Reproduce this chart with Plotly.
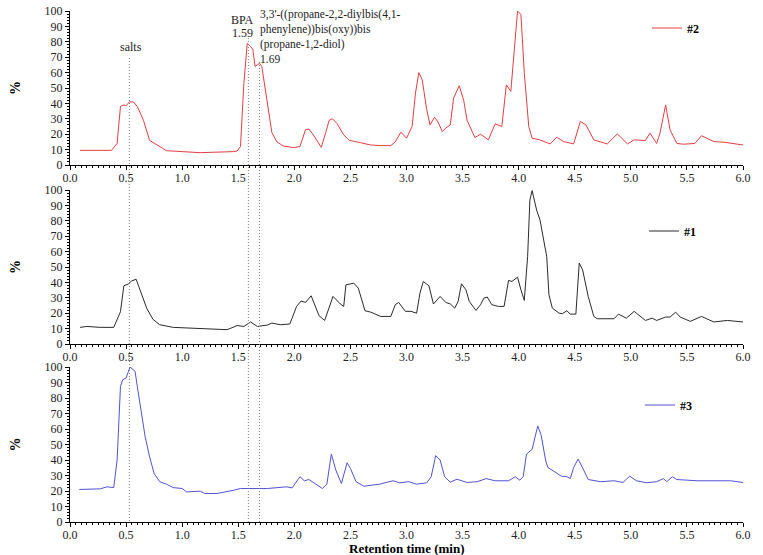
import plotly.graph_objects as go

# ---------------- data ----------------
t_s2 = [0.09, 0.37, 0.42, 0.45, 0.48, 0.50, 0.53, 0.565, 0.60, 0.655, 0.71, 0.80, 0.86, 1.00, 1.16, 1.46, 1.49,
        1.52, 1.55, 1.58, 1.61, 1.63, 1.65, 1.67, 1.69, 1.71, 1.755, 1.80, 1.845, 1.90, 1.99, 2.05, 2.10, 2.13,
        2.17, 2.24, 2.28, 2.31, 2.34, 2.38, 2.44, 2.49, 2.59, 2.68, 2.77, 2.86, 2.90, 2.95, 3.00, 3.05, 3.08,
        3.11, 3.14, 3.18, 3.21, 3.25, 3.28, 3.32, 3.35, 3.39, 3.42, 3.47, 3.51, 3.54, 3.61, 3.66, 3.73, 3.79,
        3.85, 3.89, 3.93, 3.95, 3.99, 4.02, 4.05, 4.09, 4.12, 4.19, 4.28, 4.34, 4.40, 4.49, 4.55, 4.60, 4.67,
        4.79, 4.88, 4.97, 5.03, 5.13, 5.17, 5.23, 5.26, 5.31, 5.35, 5.41, 5.47, 5.57, 5.63, 5.74, 5.83, 6.00]
v_s2 = [9.5, 9.5, 14, 38, 39, 38.5, 41, 41, 38, 29, 16, 12, 9.3, 8.7, 8.0, 8.7, 9.1,
        12, 53, 79, 77, 75, 64, 65, 66, 64, 42, 21, 15, 12.4, 11.3, 12, 23, 23.3,
        19.5, 11.5, 21, 29, 30, 27, 19.6, 16, 14.5, 13, 12.6, 12.6, 15, 21.3, 17.4, 25, 46.7,
        60, 55.4, 36, 26, 31, 28, 21.7, 24, 26, 43.5, 51.5, 42, 29, 17.8, 20, 16.3, 26.7,
        25, 52, 47.8, 64, 100, 97.8, 60, 25, 17.4, 16.3, 13.7, 18, 15.2, 13.7, 28.3, 26, 16.3,
        13.7, 20.2, 13.7, 16.3, 15.9, 20.7, 14, 20.7, 39, 22.8, 14, 13.5, 14, 19, 15.2, 14.8, 13]

t_s1 = [0.09, 0.15, 0.27, 0.39, 0.45, 0.48, 0.52, 0.55, 0.59, 0.625, 0.685, 0.74, 0.80, 0.92, 1.16, 1.40, 1.46,
        1.49, 1.55, 1.61, 1.67, 1.76, 1.80, 1.875, 1.96, 2.02, 2.06, 2.10, 2.15, 2.22, 2.27, 2.31, 2.345, 2.41,
        2.44, 2.46, 2.53, 2.57, 2.63, 2.68, 2.77, 2.86, 2.90, 2.93, 2.99, 3.04, 3.09, 3.12, 3.15, 3.20, 3.24,
        3.30, 3.35, 3.39, 3.43, 3.46, 3.49, 3.53, 3.56, 3.62, 3.66, 3.69, 3.72, 3.76, 3.82, 3.87, 3.91, 3.94,
        3.99, 4.02, 4.05, 4.08, 4.10, 4.12, 4.16, 4.19, 4.25, 4.27, 4.30, 4.36, 4.39, 4.43, 4.46, 4.51, 4.53,
        4.54, 4.57, 4.62, 4.67, 4.70, 4.85, 4.89, 4.96, 5.03, 5.13, 5.19, 5.23, 5.31, 5.35, 5.40, 5.44, 5.53,
        5.63, 5.74, 5.86, 6.00]
v_s1 = [10.8, 11.4, 10.8, 10.8, 21, 37.8, 39, 41, 42, 35, 23, 16, 12.5, 10.8, 10, 9.3, 11,
        12, 11.4, 14.3, 11.4, 12.3, 13.6, 12.5, 13, 24.4, 27.9, 27, 31.3, 18.4, 15.3, 23.3, 30.9, 26,
        24.4, 38.4, 39.5, 36.3, 21.6, 20.7, 17.9, 17.9, 25.5, 27, 21.2, 21.2, 20, 33, 40.6, 37.8, 26,
        30.9, 27, 26, 23.3, 27.6, 39.1, 35.2, 27.6, 21.8, 25.5, 29.8, 30.5, 25.5, 24.4, 24.4, 41.3, 40.6,
        43.4, 35.2, 28.3, 56.8, 93.5, 99.6, 87, 80.6, 56.8, 32, 23.3, 20, 19.7, 21.6, 19.4, 19.4, 47,
        52.5, 48.2, 30.9, 17.9, 16.4, 16.4, 19.4, 16.8, 21.2, 15.3, 16.8, 15.3, 17.5, 17.5, 20.7, 17.5, 14.7,
        17.9, 14.3, 15.3, 14.3]

t_s3 = [0.083, 0.27, 0.33, 0.39, 0.42, 0.45, 0.47, 0.50, 0.535, 0.58, 0.60, 0.64, 0.67, 0.71, 0.75, 0.80, 0.86,
        0.92, 1.00, 1.04, 1.16, 1.20, 1.31, 1.46, 1.52, 1.76, 1.93, 1.98, 2.02, 2.05, 2.09, 2.13, 2.25, 2.29,
        2.33, 2.37, 2.42, 2.47, 2.50, 2.55, 2.62, 2.68, 2.76, 2.88, 2.94, 3.02, 3.09, 3.18, 3.22, 3.26, 3.30,
        3.34, 3.39, 3.45, 3.54, 3.63, 3.71, 3.79, 3.91, 3.97, 4.01, 4.04, 4.07, 4.12, 4.17, 4.20, 4.24, 4.26,
        4.32, 4.38, 4.43, 4.46, 4.49, 4.53, 4.58, 4.62, 4.73, 4.85, 4.93, 4.99, 5.05, 5.14, 5.23, 5.29, 5.32,
        5.37, 5.41, 5.59, 5.74, 5.89, 6.00]
v_s3 = [21, 21.4, 22.7, 22.2, 40, 87.5, 91.8, 92.9, 100, 97.2, 87.5, 70.2, 55, 42, 31.3, 26, 24.4,
        22.2, 21.6, 19.4, 19.9, 18.4, 18.4, 20.5, 21.6, 21.6, 22.7, 22, 26, 29.2, 26.6, 27.4, 21.6, 24.4,
        43.8, 33.5, 24.8, 38.2, 34.6, 26, 23.1, 23.8, 24.4, 26.6, 25.3, 26, 24.4, 25.3, 29.2, 42.8, 40,
        29.2, 25.7, 27.6, 25.5, 26, 28, 26.6, 26.6, 29.2, 27, 29.2, 43.8, 46.9, 62, 56.2, 40, 35.2,
        32.4, 29.6, 29.2, 28, 35.2, 40.6, 33.5, 27.4, 26, 26.6, 25.5, 29.6, 26.6, 25.3, 26, 28, 26,
        29.2, 27.4, 26.6, 26.6, 26.6, 25.5]

series_names = ["#2", "#1", "#3"]
marker_times = [0.53, 1.59, 1.69]
x_ticks = [0.0, 0.5, 1.0, 1.5, 2.0, 2.5, 3.0, 3.5, 4.0, 4.5, 5.0, 5.5, 6.0]
y_ticks = [0, 10, 20, 30, 40, 50, 60, 70, 80, 90, 100]

# ---------------- figure ----------------
FONT = "Liberation Serif"
W, H = 763, 555
PW = W - 90

def py(px):
    return 1 - px / H

def pxx(px):
    return (px - 70) / PW

fig = go.Figure()
colors = ["#e23e42", "#2a2a2a", "#5252d4"]
data = [(t_s2, v_s2), (t_s1, v_s1), (t_s3, v_s3)]
axes = [("x", "y"), ("x2", "y2"), ("x3", "y3")]
legends = ["legend", "legend2", "legend3"]
for i in range(3):
    fig.add_trace(go.Scatter(x=data[i][0], y=data[i][1], mode="lines", name=series_names[i],
                             line=dict(color=colors[i], width=1), xaxis=axes[i][0], yaxis=axes[i][1],
                             legend=legends[i], showlegend=True))

domains = [(py(165), py(11)), (py(344), py(190)), (py(522), py(367))]
common_x = dict(range=[0, 6], tickvals=x_ticks, ticktext=[f"{v:.1f}" for v in x_ticks],
                showline=True, linecolor="black", linewidth=1, ticks="outside", ticklen=4,
                tickcolor="black", showgrid=False, zeroline=False, automargin=False,
                ticklabelstandoff=-2,
                tickfont=dict(family=FONT, size=12, color="#222"),
                minor=dict(dtick=0.05, ticks="outside", ticklen=2, tickcolor="black", showgrid=False))
common_y = dict(range=[0, 100], tickvals=y_ticks, showline=True, linecolor="black", linewidth=1,
                ticks="outside", ticklen=4, tickcolor="black", showgrid=False, zeroline=False,
                automargin=False,
                tickfont=dict(family=FONT, size=12, color="#222"),
                minor=dict(dtick=2, ticks="outside", ticklen=2, tickcolor="black", showgrid=False))

layout = dict(width=W, height=H, paper_bgcolor="white", plot_bgcolor="white",
              margin=dict(l=70, r=20, t=0, b=0, autoexpand=False),
              font=dict(family=FONT, color="#222"))
for i in range(3):
    xs = "xaxis" if i == 0 else f"xaxis{i+1}"
    ys = "yaxis" if i == 0 else f"yaxis{i+1}"
    layout[xs] = dict(common_x, domain=[0, 1], anchor=axes[i][1])
    layout[ys] = dict(common_y, domain=list(domains[i]), anchor=axes[i][0])

leg_pos = [(647, 28), (644, 231), (640, 405)]
for i, lg in enumerate(legends):
    layout[lg] = dict(x=pxx(leg_pos[i][0]), y=py(leg_pos[i][1]), xanchor="left",
                      yanchor="middle", bgcolor="rgba(0,0,0,0)", borderwidth=0,
                      font=dict(family=FONT, size=12, color="black", weight="bold"),
                      visible=True)
fig.update_layout(**layout)

# dotted marker lines
starts = [58, 38, 62]
for t, s in zip(marker_times, starts):
    fig.add_shape(type="line", xref="x", yref="paper", x0=t, x1=t, y0=py(s), y1=py(522),
                  line=dict(color="#808080", width=1, dash="1px,2px"))

# y-axis titles
for i in range(3):
    yd = "y domain" if i == 0 else f"y{i+1} domain"
    fig.add_annotation(text="%", xref="paper", yref=yd, x=pxx(15), y=0.5,
                       textangle=-90, showarrow=False, xanchor="center", yanchor="middle",
                       font=dict(family=FONT, size=14, color="black", weight="bold"))

fig.add_annotation(text="Retention time (min)", xref="paper", yref="paper", x=0.5, y=py(548),
                   showarrow=False, xanchor="center", yanchor="middle",
                   font=dict(family=FONT, size=13, color="black", weight="bold"))

fig.add_annotation(text="salts", xref="x", yref="paper", x=0.54, y=py(47), showarrow=False,
                   xanchor="center", yanchor="middle", font=dict(family=FONT, size=12, color="#222"))
fig.add_annotation(text="BPA", xref="x", yref="paper", x=1.535, y=py(20), showarrow=False,
                   xanchor="center", yanchor="middle", font=dict(family=FONT, size=12, color="#222"))
fig.add_annotation(text="1.59", xref="x", yref="paper", x=1.535, y=py(33), showarrow=False,
                   xanchor="center", yanchor="middle", font=dict(family=FONT, size=12, color="#222"))
fig.add_annotation(text="3,3'-((propane-2,2-diylbis(4,1-<br>phenylene))bis(oxy))bis<br>(propane-1,2-diol)<br>1.69",
                   xref="x", yref="paper", x=1.675, y=py(6), showarrow=False,
                   xanchor="left", yanchor="top", align="left",
                   font=dict(family=FONT, size=11.5, color="#222"))

fig.write_html("out.html", config={"displayModeBar": False},
               post_script="document.body.style.margin='0';document.body.style.padding='0';")
